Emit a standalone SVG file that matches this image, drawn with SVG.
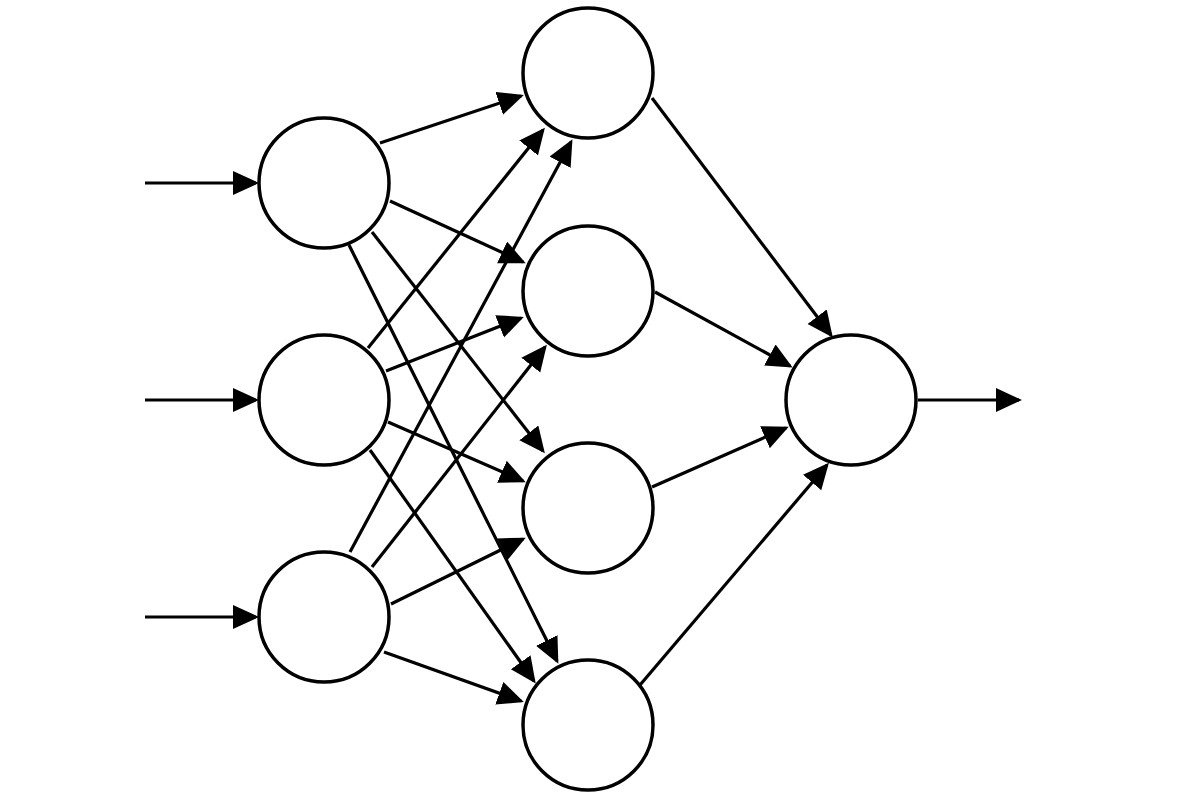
<svg xmlns="http://www.w3.org/2000/svg" width="1200" height="800" viewBox="0 0 1200 800">
<style>
.node{fill:#fff;stroke:#000;stroke-width:3.5}
.edge{stroke:#000;stroke-width:3.2;fill:none;marker-end:url(#arr)}
</style>
<defs>
<marker id="arr" markerUnits="userSpaceOnUse" markerWidth="27" markerHeight="25" refX="23" refY="12" orient="auto" viewBox="0 0 27 25">
<path d="M0,0 L26,12 L0,24 Z" fill="#000"/>
</marker>
</defs>
<rect width="1200" height="800" fill="#fff"/>
<g id="connectors">
<line class="edge" x1="145" y1="183" x2="256" y2="183"/>
<line class="edge" x1="145" y1="400" x2="256" y2="400"/>
<line class="edge" x1="145" y1="617" x2="256" y2="617"/>
<line class="edge" x1="380" y1="143" x2="521" y2="96"/>
<line class="edge" x1="390" y1="201" x2="523" y2="262"/>
<line class="edge" x1="372" y1="232" x2="543" y2="451"/>
<line class="edge" x1="349" y1="245" x2="557" y2="661"/>
<line class="edge" x1="368" y1="348" x2="543" y2="130"/>
<line class="edge" x1="386" y1="371" x2="521" y2="318"/>
<line class="edge" x1="388" y1="422" x2="523" y2="481"/>
<line class="edge" x1="370" y1="450" x2="534" y2="681"/>
<line class="edge" x1="350" y1="552" x2="571" y2="142"/>
<line class="edge" x1="372" y1="567" x2="545" y2="347"/>
<line class="edge" x1="391" y1="604" x2="523" y2="539"/>
<line class="edge" x1="384" y1="652" x2="521" y2="701"/>
<line class="edge" x1="652" y1="98" x2="831" y2="335"/>
<line class="edge" x1="655" y1="292" x2="790" y2="366"/>
<line class="edge" x1="652" y1="487" x2="786" y2="428"/>
<line class="edge" x1="640" y1="685" x2="827" y2="465"/>
<line class="edge" x1="918" y1="400" x2="1019" y2="400"/>
</g>
<g id="in1"><circle class="node" cx="324" cy="183" r="65"/></g>
<g id="in2"><circle class="node" cx="324" cy="400" r="65"/></g>
<g id="in3"><circle class="node" cx="324" cy="617" r="65"/></g>
<g id="h1"><circle class="node" cx="588" cy="73" r="65"/></g>
<g id="h2"><circle class="node" cx="588" cy="291" r="65"/></g>
<g id="h3"><circle class="node" cx="588" cy="508" r="65"/></g>
<g id="h4"><circle class="node" cx="588" cy="725" r="65"/></g>
<g id="out"><circle class="node" cx="851" cy="400" r="65"/></g>
</svg>
